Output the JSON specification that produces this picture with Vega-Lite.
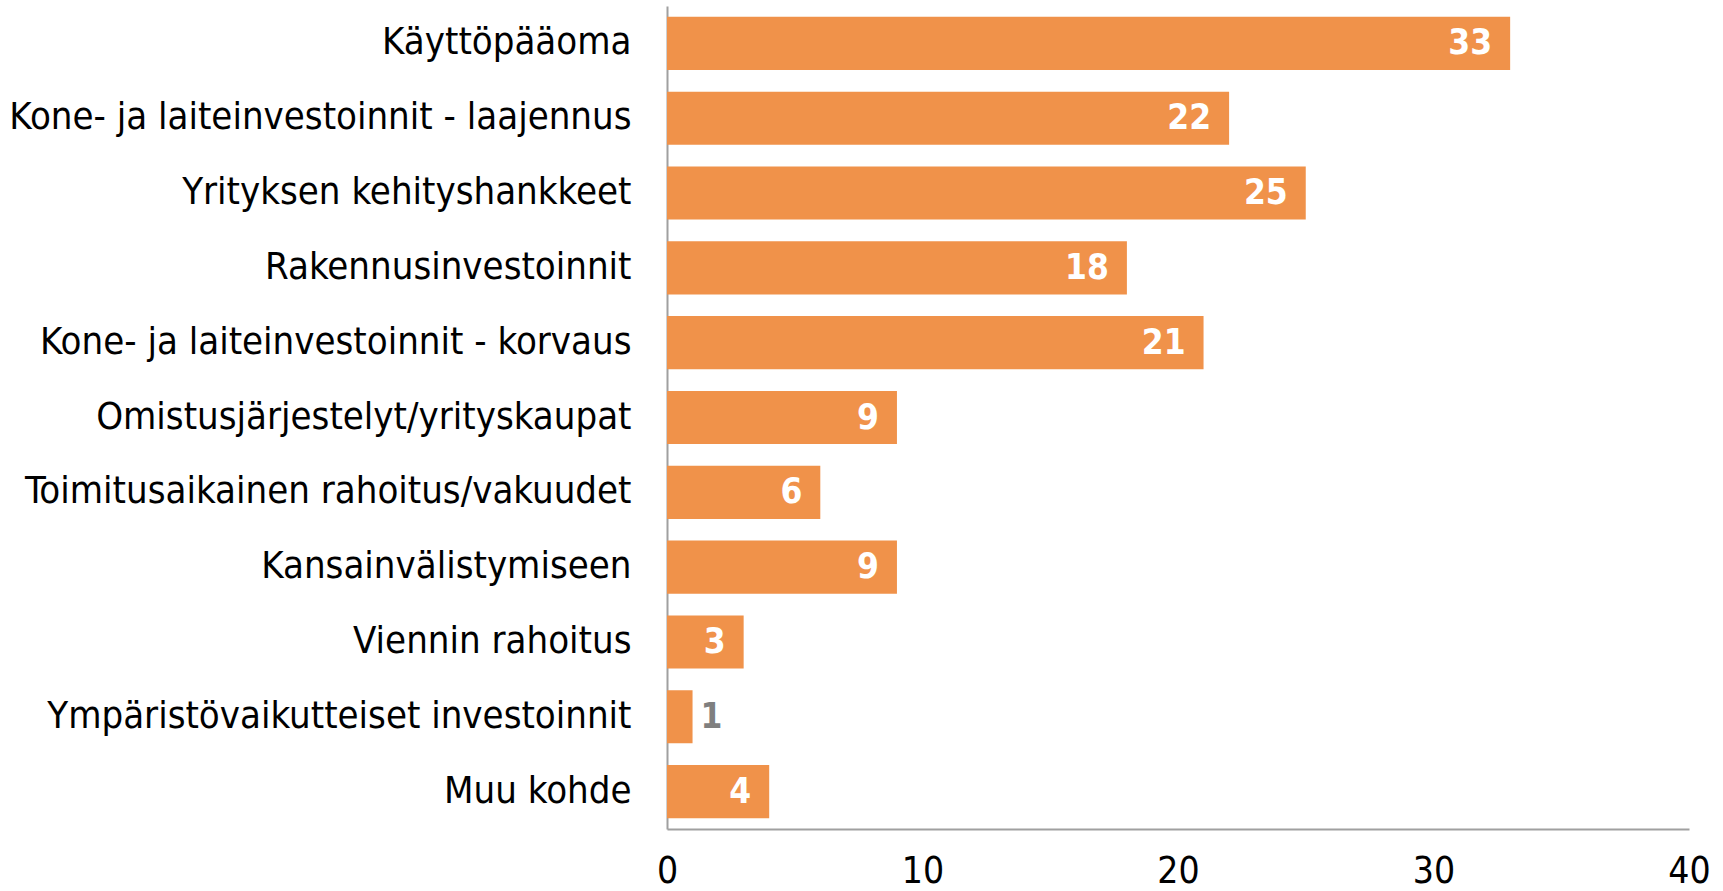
{
  "$schema": "https://vega.github.io/schema/vega-lite/v6.json",
  "width": 1022,
  "height": 823,
  "autosize": {"type": "none"},
  "padding": {"left": 667, "top": 6, "right": 34, "bottom": 62},
  "background": "white",
  "config": {"view": {"stroke": null}, "font": "DejaVu Sans Condensed"},
  "data": {"values": [
    {"kohde": "Käyttöpääoma", "arvo": 33},
    {"kohde": "Kone- ja laiteinvestoinnit - laajennus", "arvo": 22},
    {"kohde": "Yrityksen kehityshankkeet", "arvo": 25},
    {"kohde": "Rakennusinvestoinnit", "arvo": 18},
    {"kohde": "Kone- ja laiteinvestoinnit - korvaus", "arvo": 21},
    {"kohde": "Omistusjärjestelyt/yrityskaupat", "arvo": 9},
    {"kohde": "Toimitusaikainen rahoitus/vakuudet", "arvo": 6},
    {"kohde": "Kansainvälistymiseen", "arvo": 9},
    {"kohde": "Viennin rahoitus", "arvo": 3},
    {"kohde": "Ympäristövaikutteiset investoinnit", "arvo": 1},
    {"kohde": "Muu kohde", "arvo": 4}
  ]},
  "encoding": {
    "y": {"field": "kohde", "type": "nominal", "sort": null,
      "scale": {"paddingInner": 0.29, "paddingOuter": 0.145},
      "axis": {"title": null, "ticks": false, "domainColor": "#A0A0A0", "domainWidth": 2,
        "labelFontSize": 38, "labelColor": "#000000", "labelPadding": 36, "labelLimit": 700}},
    "x": {"field": "arvo", "type": "quantitative",
      "scale": {"domain": [0, 40]},
      "axis": {"title": null, "values": [0, 10, 20, 30, 40], "grid": false, "ticks": false,
        "domainColor": "#A0A0A0", "domainWidth": 2, "labelFontSize": 37, "labelColor": "#000000",
        "labelPadding": 24, "labelFlush": false}}
  },
  "layer": [
    {"mark": {"type": "bar", "color": "#F0924A"}},
    {"transform": [{"filter": "datum.arvo >= 2"}],
     "mark": {"type": "text", "align": "right", "dx": -18, "fontWeight": "bold", "fontSize": 35, "color": "white"},
     "encoding": {"text": {"field": "arvo", "type": "quantitative"}}},
    {"transform": [{"filter": "datum.arvo < 2"}],
     "mark": {"type": "text", "align": "left", "dx": 8, "fontWeight": "bold", "fontSize": 35, "color": "#7F7F7F"},
     "encoding": {"text": {"field": "arvo", "type": "quantitative"}}}
  ]
}
